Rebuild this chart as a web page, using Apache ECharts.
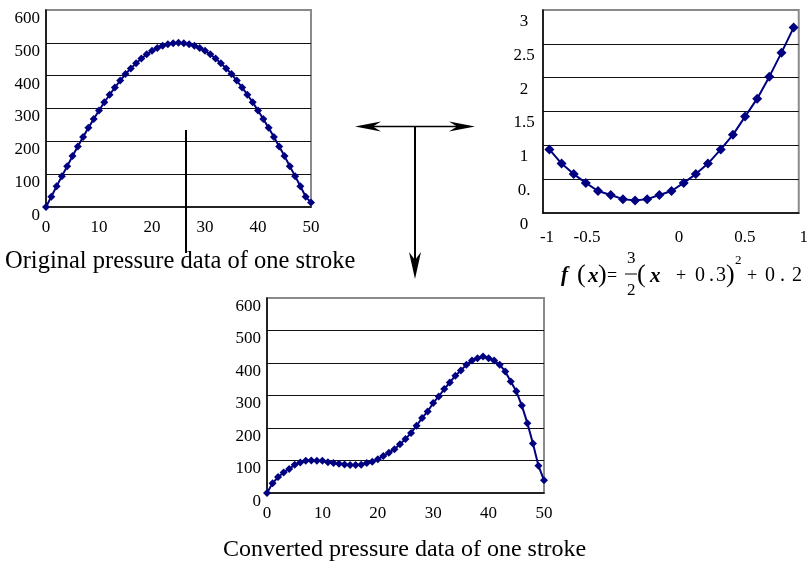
<!DOCTYPE html>
<html><head><meta charset="utf-8">
<script src="https://cdn.jsdelivr.net/npm/echarts@6/dist/echarts.min.js"></script>
<style>html,body{margin:0;padding:0;background:#fff}#c{width:811px;height:565px}</style>
</head><body><div id="c"></div>
<script>
// ---- data ----
const originalPressure = [0,31,63,94,124,155,184,213,241,268,294,319,342,364,385,405,422,438,452,465,476,484,491,496,499,500,499,496,491,484,476,465,452,438,422,405,385,364,342,319,294,268,241,213,184,155,124,94,63,31,14];
const convertedPressure = [0,30,49,63,74,87,94,99,100,99,99,95,92,90,88,86,86,87,92,96,104,114,124,135,150,166,185,207,231,251,277,297,320,340,361,377,395,408,415,420,415,408,395,374,343,313,269,215,152,84,39];
const funcX = [-0.95,-0.855,-0.76,-0.665,-0.57,-0.47,-0.375,-0.28,-0.185,-0.09,0.005,0.1,0.195,0.29,0.39,0.485,0.58,0.675,0.77,0.865,0.96];
const funcY = [0.94,0.73,0.575,0.445,0.325,0.265,0.205,0.185,0.205,0.265,0.325,0.445,0.575,0.73,0.94,1.155,1.425,1.69,2.015,2.37,2.74];
const pressureTicks = ['0','100','200','300','400','500','600'];
const strokeTicks = ['0','10','20','30','40','50'];
const funcYTicks = ['0','0.','1','1.5','2','2.5','3'];
const funcXTicks = ['-1','-0.5','0','0.5','1'];
const titleOriginal = 'Original pressure data of one stroke';
const titleConverted = 'Converted pressure data of one stroke';

const FONT = '"Liberation Serif", "Times New Roman", serif';
const NAVY = '#000080';

function gridCfg(l, t, w, h) {
  return {left: l, top: t, width: w, height: h, show: true, borderColor: '#8a8a8a', borderWidth: 2, backgroundColor: 'transparent'};
}
const axisLineBlack = {show: true, onZero: false, lineStyle: {color: '#000', width: 1.5}};
const split = {show: true, showMinLine: false, showMaxLine: false, lineStyle: {color: '#111', width: 1}};

function xStroke(gi) {
  return {type: 'value', gridIndex: gi, min: 0, max: 50, interval: 10,
    axisLine: axisLineBlack, axisTick: {show: false}, splitLine: {show: false},
    axisLabel: {margin: 12, fontSize: 17, fontFamily: FONT, color: '#000', showMinLabel: true, showMaxLabel: true,
      formatter: v => strokeTicks[Math.round(v / 10)]}};
}
function yPressure(gi) {
  return {type: 'value', gridIndex: gi, min: 0, max: 600, interval: 100,
    axisLine: axisLineBlack, axisTick: {show: false}, splitLine: split,
    axisLabel: {margin: 6, align: 'right', verticalAlign: 'top', fontSize: 17, fontFamily: FONT, color: '#000',
      showMinLabel: true, showMaxLabel: true,
      formatter: v => pressureTicks[Math.round(v / 100)]}};
}
const xShift = [8, -40, 16, 20, 10];
const rich = {};
xShift.forEach((s, i) => {
  rich['s' + i] = {fontSize: 17, fontFamily: FONT, color: '#000', padding: s >= 0 ? [0, 0, 0, s] : [0, -s, 0, 0]};
});

const series = [
  {type: 'line', xAxisIndex: 0, yAxisIndex: 0, data: originalPressure.map((v, i) => [i, v]),
   symbol: 'diamond', symbolSize: 8, lineStyle: {color: NAVY, width: 2}, itemStyle: {color: NAVY}},
  {type: 'line', xAxisIndex: 1, yAxisIndex: 1, data: funcX.map((x, i) => [x, funcY[i]]),
   symbol: 'diamond', symbolSize: 10, lineStyle: {color: NAVY, width: 2}, itemStyle: {color: NAVY}},
  {type: 'line', xAxisIndex: 2, yAxisIndex: 2, data: convertedPressure.map((v, i) => [i, v]),
   symbol: 'diamond', symbolSize: 8, lineStyle: {color: NAVY, width: 2}, itemStyle: {color: NAVY}}
];

function txt(t, x, y, size, opts) {
  opts = opts || {};
  return {type: 'text', x: x, y: y, z: 100, style: {text: t, fill: '#000',
    font: (opts.bi ? 'italic bold ' : '') + size + 'px ' + FONT,
    align: opts.align || 'left', verticalAlign: opts.va || 'middle'}};
}
function head(pts) {
  return {type: 'polygon', z: 100, shape: {points: pts}, style: {fill: '#000'}};
}

const graphic = [
  {type: 'line', z: 100, shape: {x1: 186, y1: 130, x2: 186, y2: 253}, style: {stroke: '#000', lineWidth: 2}},
  {type: 'line', z: 100, shape: {x1: 365, y1: 126.5, x2: 465, y2: 126.5}, style: {stroke: '#000', lineWidth: 1.5}},
  head([[355, 126.5], [381, 121.5], [373, 126.5], [381, 131.5]]),
  head([[475, 126.5], [449, 121.5], [457, 126.5], [449, 131.5]]),
  {type: 'line', z: 100, shape: {x1: 415, y1: 126.5, x2: 415, y2: 265}, style: {stroke: '#000', lineWidth: 2}},
  head([[415, 279], [409, 252], [415, 260], [421, 252]]),
  txt(titleOriginal, 5, 262, 24.5),
  txt(titleConverted, 223, 550, 24),
  // formula f(x) = 3/2 (x + 0.3)^2 + 0.2
  txt('f', 561, 276, 21, {bi: true}),
  txt('(', 577, 275, 26),
  txt('x', 588, 277, 21, {bi: true}),
  txt(')', 598, 275, 26),
  txt('=', 607, 276, 18),
  txt('3', 627, 259, 17),
  {type: 'line', z: 100, shape: {x1: 625, y1: 274, x2: 637, y2: 274}, style: {stroke: '#000', lineWidth: 1}},
  txt('2', 627, 291, 17),
  txt('(', 637, 275, 26),
  txt('x', 650, 277, 21, {bi: true}),
  txt('+', 676, 276, 18),
  txt('0', 695, 276, 20),
  txt('.', 709, 276, 20),
  txt('3', 716, 276, 20),
  txt(')', 726, 275, 26),
  txt('2', 735, 261, 13),
  txt('+', 747, 276, 18),
  txt('0', 765, 276, 20),
  txt('.', 780, 276, 20),
  txt('2', 792, 276, 20)
];

const option = {
  animation: false,
  backgroundColor: '#fff',
  grid: [gridCfg(46, 10, 265, 197), gridCfg(543, 10, 262, 203), gridCfg(267, 298, 277, 195)],
  xAxis: [
    xStroke(0),
    {type: 'value', gridIndex: 1, min: -1, max: 1, interval: 0.5,
     axisLine: axisLineBlack, axisTick: {show: false}, splitLine: {show: false},
     axisLabel: {margin: 16, fontSize: 17, fontFamily: FONT, color: '#000', showMinLabel: true, showMaxLabel: true,
       formatter: v => { const i = Math.round((v + 1) / 0.5); return '{s' + i + '|' + funcXTicks[i] + '}'; },
       rich: rich}},
    xStroke(2)
  ],
  yAxis: [
    yPressure(0),
    {type: 'value', gridIndex: 1, min: 0, max: 3, interval: 0.5,
     axisLine: axisLineBlack, axisTick: {show: false}, splitLine: split,
     axisLabel: {margin: 19, align: 'center', verticalAlign: 'top', padding: [3, 0, 0, 0], fontSize: 17, fontFamily: FONT, color: '#000',
       showMinLabel: true, showMaxLabel: true,
       formatter: v => funcYTicks[Math.round(v / 0.5)]}},
    yPressure(2)
  ],
  series: series,
  graphic: graphic
};
const chart = echarts.init(document.getElementById('c'), null, {renderer: 'canvas'});
chart.setOption(option);
</script></body></html>
